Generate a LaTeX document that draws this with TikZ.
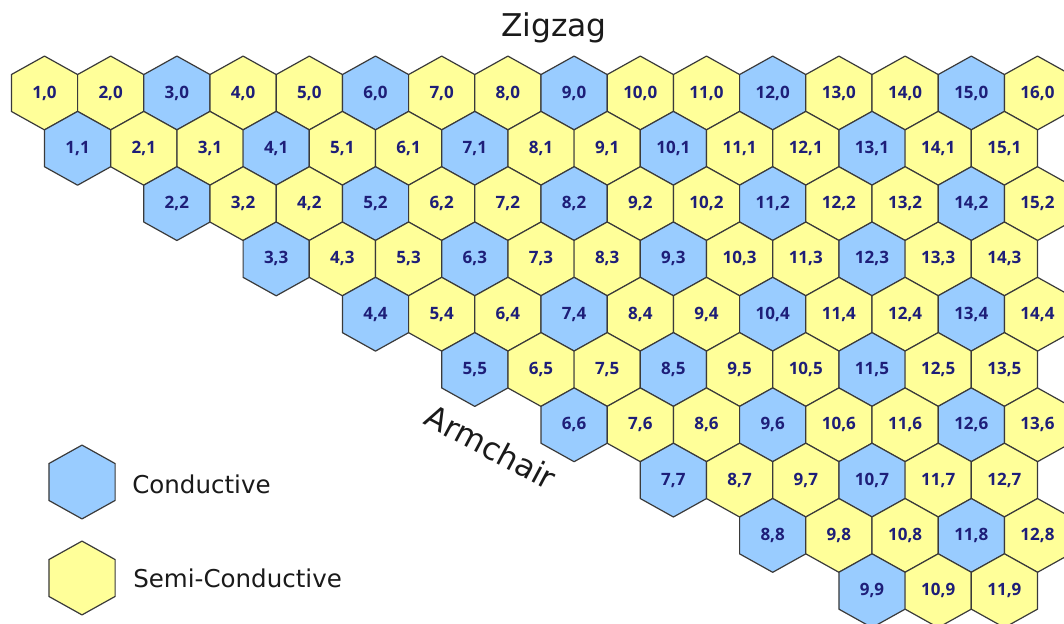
\documentclass[tikz,border=0pt]{standalone}
\usepackage{fontspec}
\setmainfont{DejaVu Sans}
\newfontfamily\labelfont{Open Sans}
\definecolor{condblue}{HTML}{99CCFF}
\definecolor{semiyellow}{HTML}{FFFF99}
\definecolor{labelnavy}{HTML}{1E1E78}
\definecolor{edgegrey}{HTML}{3A3A3A}
\definecolor{inkblack}{HTML}{1A1A1A}
\tikzset{
  hexcell/.style={draw=edgegrey, line width=0.9pt, line join=round},
  hexagon/.pic={
    \path[hexcell,pic actions] (0,-36.9) -- (33.1,-18.45) -- (33.1,18.45)
      -- (0,36.9) -- (-33.1,18.45) -- (-33.1,-18.45) -- cycle;
  },
  cell/.style={font=\labelfont\bfseries\fontsize{12.75}{14}\selectfont,
    text=labelnavy, inner sep=0pt},
  caption/.style={font=\fontsize{23.5}{26}\selectfont, text=inkblack, inner sep=0pt},
  legendtext/.style={font=\fontsize{18.4}{20}\selectfont, text=inkblack,
    anchor=base west, inner sep=0pt}
}
\begin{document}
\begin{tikzpicture}[x=0.75pt,y=-0.75pt]
\useasboundingbox (0,0) rectangle (1064,624);
\fill[white] (0,0) rectangle (1064,624);
\clip (0,0) rectangle (1064,624);

% chirality map: row m holds the vectors (n,m), metallic when n-m is a multiple of 3
\foreach \m/\lo/\hi in {0/1/16,1/1/15,2/2/15,3/3/14,4/4/14,5/5/13,6/6/13,7/7/12,8/8/12,9/9/11}{
  \foreach \n in {\lo,...,\hi}{
    \pgfmathsetmacro\cx{44.5+(\n-1)*66.2+\m*33.1}
    \pgfmathsetmacro\cy{93+\m*55.3}
    \pgfmathtruncatemacro\r{mod(\n-\m,3)}
    \ifnum\r=0 \def\fc{condblue}\else\def\fc{semiyellow}\fi
    \pic[fill=\fc] at (\cx,\cy) {hexagon};
    \node[cell] (c\n-\m) at (\cx,\cy) {\n,\m};
  }
}

% axis captions
\node[caption, anchor=base] (zigzag) at (554,37) {Zigzag};
\node[caption, rotate=-28] (armchair) at (491,447) {Armchair};

% legend
\pic[fill=condblue] at (82,482) {hexagon};
\node[legendtext] (conductive) at (132,493) {Conductive};
\pic[fill=semiyellow] at (82,578) {hexagon};
\node[legendtext] (semiconductive) at (133,587) {Semi-Conductive};
\end{tikzpicture}
\end{document}
